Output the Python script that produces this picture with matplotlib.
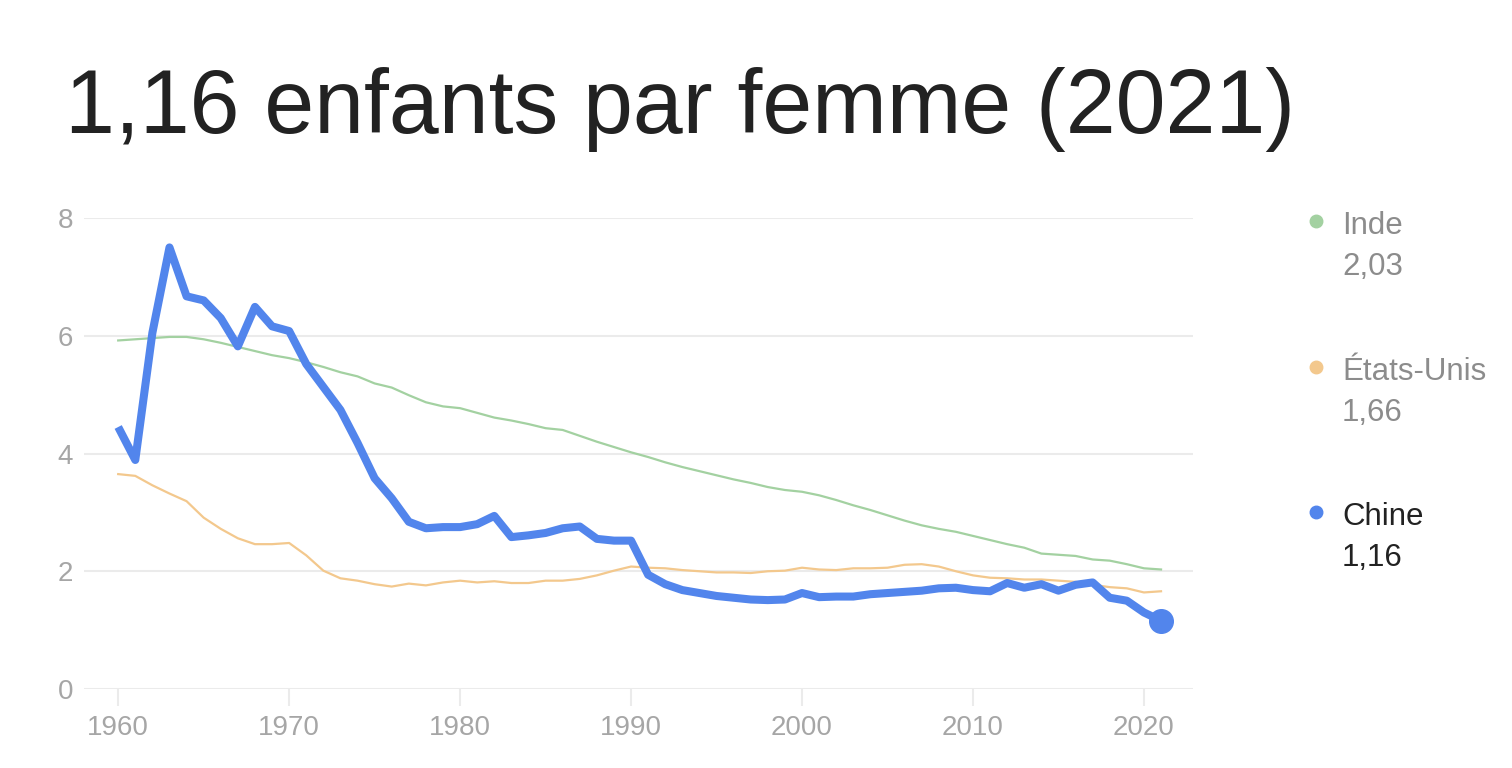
import matplotlib
matplotlib.use("Agg")
import matplotlib.pyplot as plt

years = list(range(1960, 2022))

chine = [4.45, 3.89, 6.05, 7.50, 6.67, 6.60, 6.30, 5.82, 6.49, 6.16,
         6.08, 5.52, 5.13, 4.74, 4.18, 3.58, 3.24, 2.84, 2.73, 2.75,
         2.75, 2.80, 2.94, 2.58, 2.61, 2.65, 2.73, 2.76, 2.55, 2.52,
         2.52, 1.94, 1.78, 1.68, 1.63, 1.58, 1.55, 1.52, 1.51, 1.52,
         1.63, 1.56, 1.57, 1.57, 1.61, 1.63, 1.65, 1.67, 1.71, 1.72,
         1.68, 1.66, 1.80, 1.72, 1.78, 1.67, 1.77, 1.81, 1.55, 1.50,
         1.30, 1.16]

inde = [5.92, 5.94, 5.96, 5.98, 5.98, 5.94, 5.88, 5.81, 5.74, 5.67,
        5.62, 5.55, 5.47, 5.38, 5.31, 5.19, 5.12, 4.99, 4.87, 4.80,
        4.77, 4.69, 4.61, 4.56, 4.50, 4.43, 4.40, 4.30, 4.20, 4.11,
        4.02, 3.94, 3.85, 3.77, 3.70, 3.63, 3.56, 3.50, 3.43, 3.38,
        3.35, 3.29, 3.21, 3.12, 3.04, 2.95, 2.86, 2.78, 2.72, 2.67,
        2.60, 2.53, 2.46, 2.40, 2.30, 2.28, 2.26, 2.20, 2.18, 2.12,
        2.05, 2.03]

etats_unis = [3.65, 3.62, 3.46, 3.32, 3.19, 2.91, 2.72, 2.56, 2.46, 2.46,
              2.48, 2.27, 2.01, 1.88, 1.84, 1.78, 1.74, 1.79, 1.76, 1.81,
              1.84, 1.81, 1.83, 1.80, 1.80, 1.84, 1.84, 1.87, 1.93, 2.01,
              2.08, 2.06, 2.05, 2.02, 2.00, 1.98, 1.98, 1.97, 2.00, 2.01,
              2.06, 2.03, 2.02, 2.05, 2.05, 2.06, 2.11, 2.12, 2.08, 2.00,
              1.93, 1.89, 1.88, 1.86, 1.86, 1.84, 1.82, 1.77, 1.73, 1.71,
              1.64, 1.66]

x_ticks = [1960, 1970, 1980, 1990, 2000, 2010, 2020]
y_ticks = [0, 2, 4, 6, 8]

title = "1,16 enfants par femme (2021)"
legend_names = ["Inde", "États-Unis", "Chine"]
legend_values = ["2,03", "1,66", "1,16"]

c_blue = "#5285EC"
c_green = "#A3D1A1"
c_orange = "#F3C88D"
c_grid = "#EBEBEB"
c_tick = "#A6A6A6"

plt.rcParams['font.family'] = ['Liberation Sans', 'DejaVu Sans']

fig = plt.figure(figsize=(15.12, 7.68), dpi=100)
W, H = 1512, 768
ax = fig.add_axes([84 / W, 1 - 689 / H, (1193 - 84) / W, (689 - 218) / H])

ax.plot(years, inde, color=c_green, lw=1.6, solid_joinstyle='round', zorder=2)
ax.plot(years, etats_unis, color=c_orange, lw=1.6, solid_joinstyle='round', zorder=2)
ax.plot(years, chine, color=c_blue, lw=5.8, solid_joinstyle='round',
        solid_capstyle='butt', zorder=3)
ax.plot([years[-1]], [chine[-1]], 'o', color=c_blue, ms=17, zorder=4, clip_on=False)

ax.set_xlim(1958.0, 2022.87)
ax.set_ylim(0, 8)
ax.set_xticks(x_ticks)
ax.set_yticks(y_ticks)
ax.set_xticklabels([str(v) for v in x_ticks])
ax.set_yticklabels([str(v) for v in y_ticks])
ax.grid(axis='y', color=c_grid, lw=1.5, zorder=0)
for s in ax.spines.values():
    s.set_visible(False)
ax.tick_params(axis='x', length=12, width=1.5, color=c_grid, labelsize=20,
               labelcolor=c_tick, pad=7)
ax.tick_params(axis='y', length=0, labelsize=20, labelcolor=c_tick, pad=8)

fig.text(65 / W, 1 - 133 / H, title, fontsize=64.5, color="#222222",
         ha='left', va='baseline')

legend_colors = [c_green, c_orange, c_blue]
legend_text_colors = ["#8C8C8C", "#8C8C8C", "#222222"]
dot_y = [221, 367, 512]
for name, val, col, tcol, yy in zip(legend_names, legend_values, legend_colors,
                                      legend_text_colors, dot_y):
    fig.add_artist(plt.Line2D([1316 / W], [1 - yy / H], marker='o', ms=9,
                              color=col, transform=fig.transFigure, lw=0))
    fig.text(1342 / W, 1 - (yy + 13) / H, name, fontsize=22.5, color=tcol,
             ha='left', va='baseline')
    fig.text(1342 / W, 1 - (yy + 54) / H, val, fontsize=22.5, color=tcol,
             ha='left', va='baseline')

fig.savefig("out.png", dpi=100, facecolor="white")
